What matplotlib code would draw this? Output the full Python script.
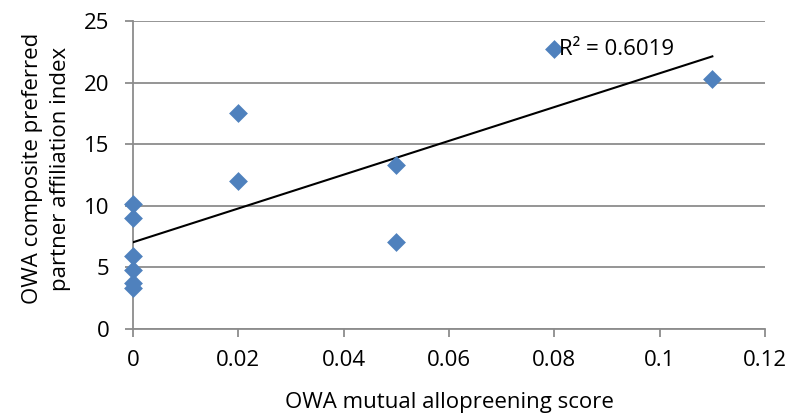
import numpy as np
import matplotlib
matplotlib.use("Agg")
import matplotlib.pyplot as plt

# OWA scores
allopreening = [0, 0, 0, 0, 0, 0, 0.02, 0.02, 0.05, 0.05, 0.08, 0.11]
affiliation = [10.15, 9.0, 5.95, 4.8, 3.7, 3.3, 17.5, 12.0, 13.3, 7.05, 22.7, 20.3]

plt.rcParams['font.family'] = ['Open Sans', 'DejaVu Sans']

fig = plt.figure(figsize=(7.9, 4.17), dpi=100)
ax = fig.add_axes([133 / 790, 1 - 329 / 417, 632 / 790, 308 / 417])

x = np.array(allopreening)
y = np.array(affiliation)
slope, intercept = np.polyfit(x, y, 1)
xs = np.array([0, x.max()])
ax.plot(xs, slope * xs + intercept, color='black', lw=1.5, zorder=3)

ax.scatter(x, y, marker='D', s=92, color='#4F81BD', linewidth=0, zorder=4, clip_on=False)

ax.text(0.0808, 22.7, 'R² = 0.6019', fontsize=16, va='center', ha='left', zorder=5)

ax.set_xlim(0, 0.12)
ax.set_ylim(0, 25)
ax.set_xticks([0, 0.02, 0.04, 0.06, 0.08, 0.1, 0.12])
ax.set_xticklabels(['0', '0.02', '0.04', '0.06', '0.08', '0.1', '0.12'])
ax.set_yticks([0, 5, 10, 15, 20, 25])
ax.yaxis.grid(True, color='#8C8C8C', lw=1.3)
ax.set_axisbelow(True)
for s in ['top', 'right']:
    ax.spines[s].set_visible(False)
for s in ['left', 'bottom']:
    ax.spines[s].set_color('#8C8C8C')
    ax.spines[s].set_linewidth(1.3)
ax.tick_params(axis='both', labelsize=16, color='#8C8C8C', length=6, width=1.3)
ax.tick_params(axis='x', pad=9)
ax.tick_params(axis='y', pad=11)

ax.set_xlabel('OWA mutual allopreening score', fontsize=16, labelpad=15)
ax.set_ylabel('OWA composite preferred\npartner affiliation index', fontsize=16,
              linespacing=1.45)
ax.yaxis.set_label_coords(-62 / 632, 0.52)

fig.savefig('out.png', dpi=100)
